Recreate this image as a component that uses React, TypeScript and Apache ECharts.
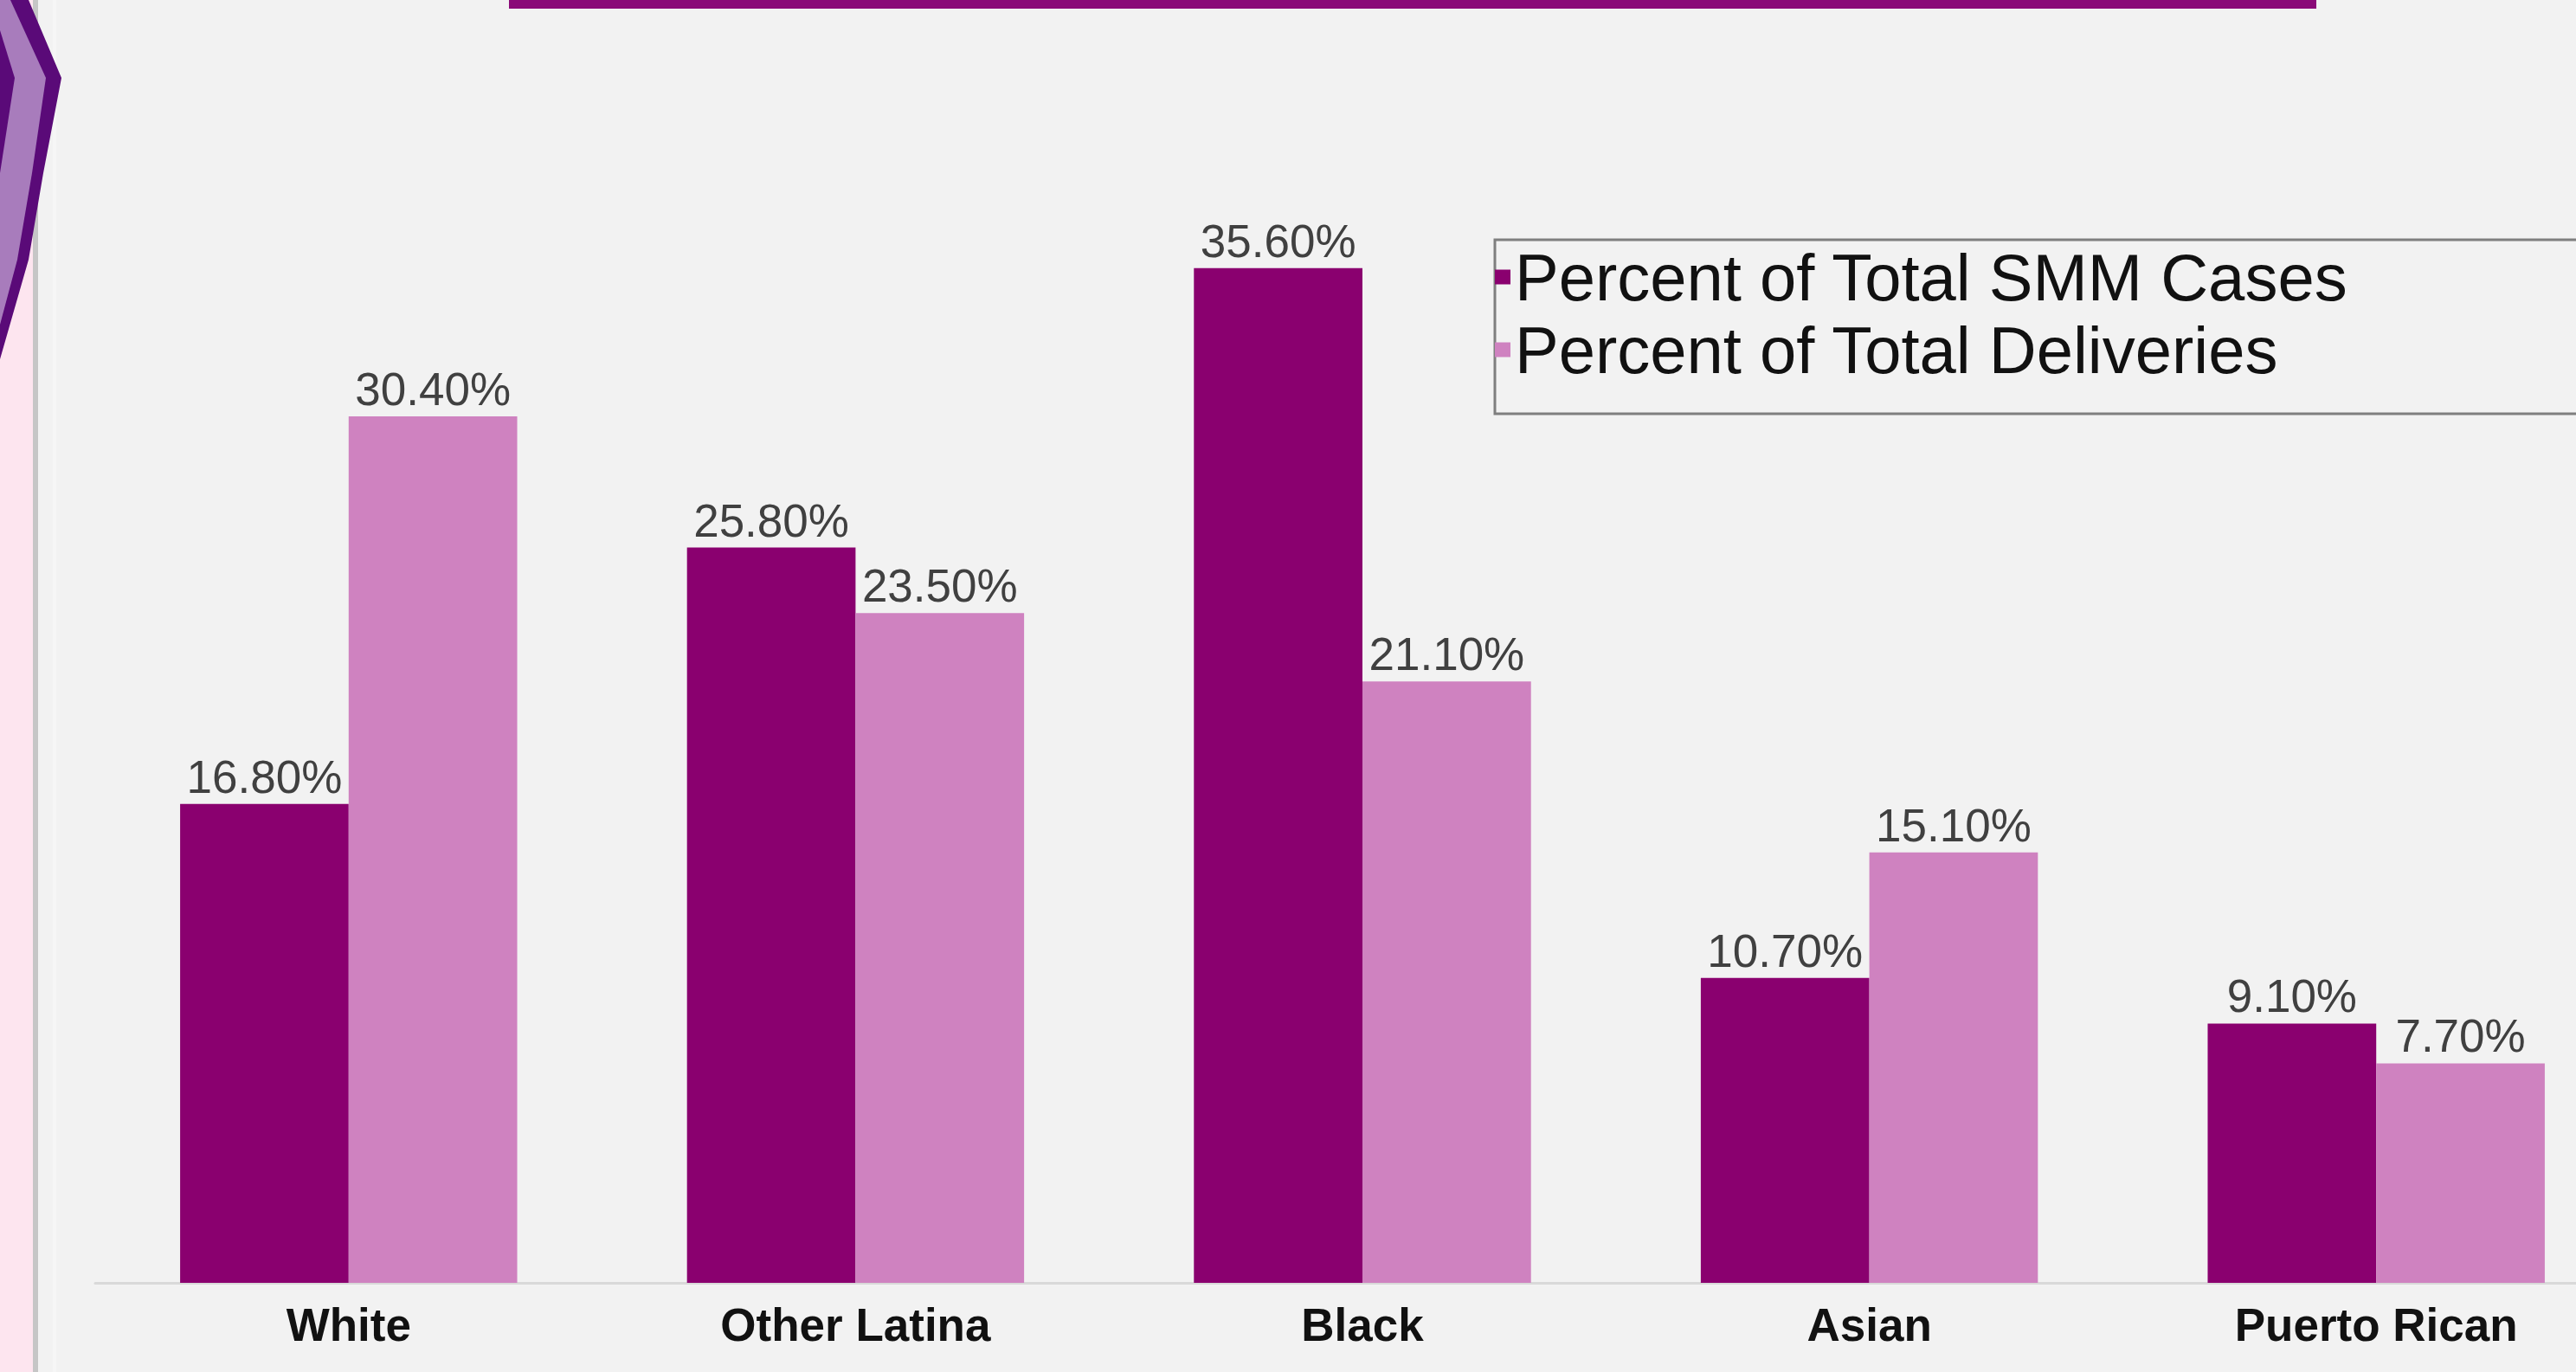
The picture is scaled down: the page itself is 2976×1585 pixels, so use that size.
import React, { useEffect, useRef } from "react";
import * as echarts from "echarts";

const categories = ["White", "Other Latina", "Black", "Asian", "Puerto Rican"];
const smmCases = [16.8, 25.8, 35.6, 10.7, 9.1];
const deliveries = [30.4, 23.5, 21.1, 15.1, 7.7];
const seriesNames = ["Percent of Total SMM Cases", "Percent of Total Deliveries"];

export default function App() {
  const ref = useRef<HTMLDivElement>(null);
  useEffect(() => {
    if (!ref.current) return;
    const chart = echarts.init(ref.current, undefined, { renderer: "svg" });
    const font = "'Liberation Sans', Arial, sans-serif";
    const valueLabel = {
      show: true,
      position: "top",
      distance: 5,
      fontSize: 53,
      color: "#404040",
      fontFamily: font,
      formatter: (p: any) => Number(p.value).toFixed(2) + "%",
    };
    chart.setOption({
      animation: false,
      backgroundColor: "#f2f2f2",
      grid: { left: 110, top: 165, bottom: 103, right: 2 },
      xAxis: {
        type: "category",
        data: categories,
        axisLine: { lineStyle: { color: "#d9d9d9", width: 3 } },
        axisTick: { show: false },
        axisLabel: {
          fontSize: 53,
          fontWeight: "bold",
          color: "#111111",
          fontFamily: font,
          margin: 22,
        },
      },
      yAxis: {
        type: "value",
        min: 0,
        max: 40,
        show: false,
        splitLine: { show: false },
      },
      legend: {
        orient: "vertical",
        left: 1727,
        top: 277,
        padding: [5, 340, 36, 0],
        itemGap: 8,
        itemWidth: 18,
        itemHeight: 17,
        icon: "rect",
        borderColor: "#7f7f7f",
        borderWidth: 3,
        textStyle: { fontSize: 76, color: "#111111", fontFamily: font },
        data: seriesNames,
      },
      graphic: [
        { type: "rect", z: 100, shape: { x: 0, y: 0, width: 38, height: 1585 }, style: { fill: "#fde5ef" } },
        { type: "rect", z: 100, shape: { x: 38, y: 0, width: 6, height: 1585 }, style: { fill: "#c6c6c6" } },
        { type: "rect", z: 100, shape: { x: 61, y: 0, width: 4, height: 1585 }, style: { fill: "#f6f6f6" } },
        {
          type: "polygon",
          z: 101,
          shape: { points: [[0, 0], [33, 0], [71, 90], [50, 200], [33, 300], [0, 415]] },
          style: { fill: "#5a0a78" },
        },
        {
          type: "polygon",
          z: 102,
          shape: { points: [[0, 0], [12, 0], [53, 90], [37, 200], [20, 300], [0, 375]] },
          style: { fill: "#a87cbc" },
        },
        { type: "polygon", z: 103, shape: { points: [[0, 35], [17, 90], [0, 200]] }, style: { fill: "#5a0a78" } },
        { type: "rect", z: 100, shape: { x: 588, y: 0, width: 2088, height: 10 }, style: { fill: "#8a0a78" } },
      ],
      series: [
        {
          name: seriesNames[0],
          type: "bar",
          data: smmCases,
          barGap: "0%",
          barCategoryGap: "33.5%",
          itemStyle: { color: "#8a006f" },
          label: valueLabel,
        },
        {
          name: seriesNames[1],
          type: "bar",
          data: deliveries,
          barGap: "0%",
          barCategoryGap: "33.5%",
          itemStyle: { color: "#cf82c0" },
          label: valueLabel,
        },
      ],
    });
    return () => chart.dispose();
  }, []);
  return (
    <div
      style={{
        position: "fixed",
        left: 0,
        top: 0,
        width: 2976,
        height: 1585,
        overflow: "hidden",
        background: "#f2f2f2",
      }}
    >
      <div ref={ref} style={{ width: 3040, height: 1585 }} />
    </div>
  );
}
